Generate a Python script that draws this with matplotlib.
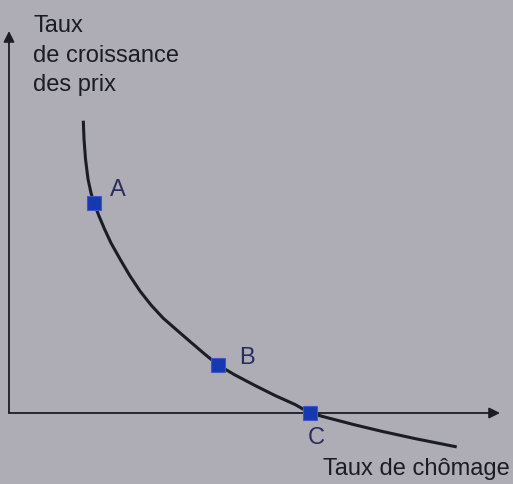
import matplotlib.pyplot as plt

plt.rcParams["font.family"] = ["Liberation Sans", "DejaVu Sans"]

# Phillips curve: unemployment rate vs. price growth (arbitrary units)
chomage = [1.486, 1.50, 1.53, 1.58, 1.64, 1.70, 1.80, 1.91, 2.04, 2.22,
           2.42, 2.62, 2.84, 3.08, 3.354, 3.62, 3.90, 4.18, 4.52, 4.92,
           5.32, 5.72, 6.02, 6.38, 6.92, 7.454, 8.12, 8.954]
prix = [5.846, 5.48, 5.08, 4.68, 4.40, 4.20, 3.94, 3.68, 3.40, 3.08,
        2.74, 2.44, 2.16, 1.90, 1.66, 1.43, 1.19, 0.96, 0.76, 0.55,
        0.35, 0.17, 0.00, -0.098, -0.238, -0.366, -0.512, -0.678]

point_names = ["A", "B", "C"]
point_x = [1.70, 4.18, 6.02]
point_y = [4.20, 0.96, 0.00]

BG = "#aeadb5"
INK = "#1c1c26"
BLUE = "#1838b2"
LABEL = "#2a2c5c"


def main():
    fig = plt.figure(figsize=(5.13, 4.85), dpi=100, facecolor=BG)
    ax = fig.add_axes([0, 0, 1, 1])
    ax.set_facecolor(BG)
    ax.set_xlim(-0.18, 10.08)
    ax.set_ylim(-1.42, 8.28)
    ax.axis("off")

    # axes with arrow heads
    arrow = dict(arrowstyle="-|>", color=INK, lw=1.3, mutation_scale=16,
                 shrinkA=0, shrinkB=0)
    ax.annotate("", xy=(9.82, 0), xytext=(0, 0), arrowprops=arrow)
    ax.annotate("", xy=(0, 7.64), xytext=(0, 0), arrowprops=arrow)

    ax.plot(chomage, prix, color=INK, lw=2.2, solid_capstyle="butt",
            solid_joinstyle="round", zorder=3)

    ax.plot(point_x, point_y, "s", ms=9.5, color=BLUE,
            markeredgecolor="#3a58c8", markeredgewidth=0.8, zorder=4)
    offsets = [(24, 14), (29, 8), (6, -24)]
    for name, x, y, off in zip(point_names, point_x, point_y, offsets):
        ax.annotate(name, (x, y), xytext=off, textcoords="offset pixels",
                    ha="center", va="center", fontsize=17, color=LABEL)

    fig.text(33 / 513, 1 - 15 / 485, "Taux\nde croissance\ndes prix",
             ha="left", va="top", fontsize=17, color=INK, linespacing=1.45)
    fig.text(510 / 513, 1 - 475 / 485, "Taux de chômage",
             ha="right", va="baseline", fontsize=17, color=INK)

    fig.savefig("out.png", dpi=100, facecolor=BG)


if __name__ == "__main__":
    main()
